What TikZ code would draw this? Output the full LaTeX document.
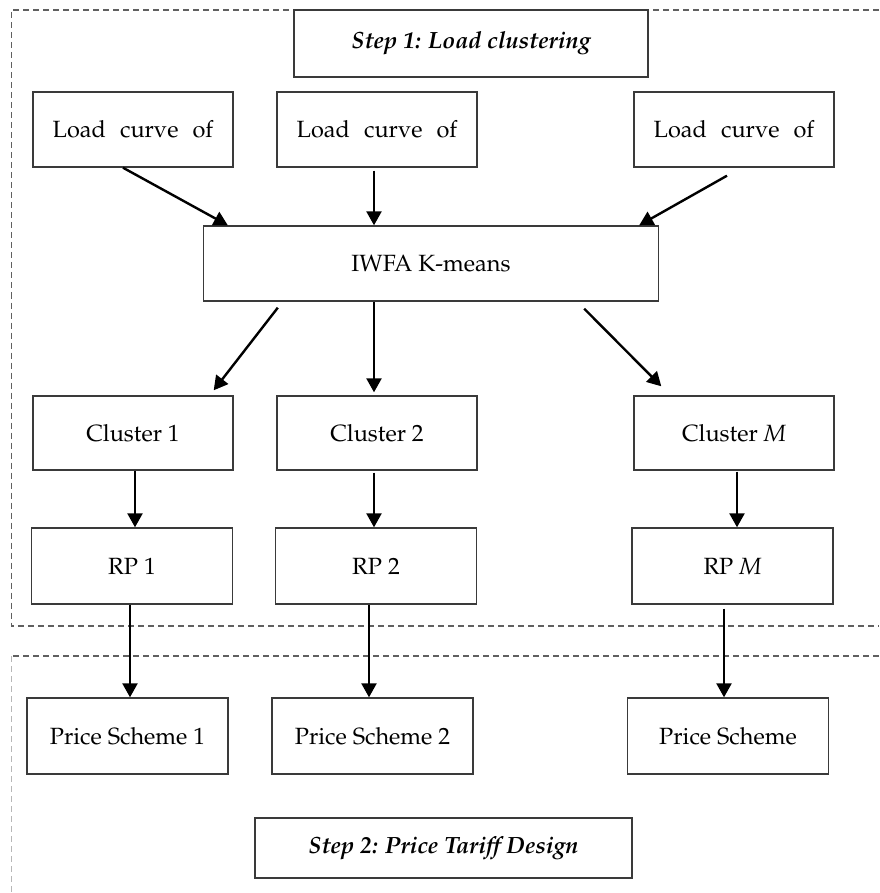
\documentclass[tikz,border=0pt]{standalone}
\usepackage[T1]{fontenc}
\usepackage{mathpazo}
\usetikzlibrary{arrows.meta}
\definecolor{boxline}{HTML}{3A3A3A}
\definecolor{dashline}{HTML}{606060}
\tikzset{
  box/.style={draw=boxline, line width=1.4pt, fill=white, inner sep=0pt, anchor=center,
    font=\fontsize{23.5}{28}\selectfont, text=black},
  stepbox/.style={box, font=\fontsize{23.5}{28}\selectfont\bfseries\itshape},
  arr/.style={draw=black, line width=2.4pt, -{Triangle[length=14pt,width=15pt]}},
  frame/.style={draw=dashline, line width=1.1pt, dash pattern=on 6pt off 4pt},
  lightframe/.style={draw=dashline!45, line width=0.9pt, dash pattern=on 6pt off 4pt}
}
\newcommand{\wsp}{\hspace{0.6em}}
\begin{document}
\begin{tikzpicture}[x=1pt,y=-1pt]
\useasboundingbox (0,0) rectangle (879,893);
% dashed frames
\draw[frame] (879,10) -- (11.5,10) -- (11.5,626) -- (879,626);
\draw[frame] (879,656) -- (11,656);
\draw[lightframe] (11,656) -- (11,893);
% nodes
\node[stepbox, minimum width=354pt, minimum height=67pt] (s1) at (471,43.5) {Step 1: Load clustering};
\node[box, minimum width=200pt, minimum height=75pt] (L1) at (133,129.5) {Load\wsp curve\wsp of};
\node[box, minimum width=200pt, minimum height=75pt] (L2) at (377,129.5) {Load\wsp curve\wsp of};
\node[box, minimum width=200pt, minimum height=75pt] (L3) at (734,129.5) {Load\wsp curve\wsp of};
\node[box, minimum width=455pt, minimum height=75pt] (iw) at (431,263.5) {IWFA K-means};
\node[box, minimum width=200pt, minimum height=74pt] (C1) at (133,433) {Cluster 1};
\node[box, minimum width=200pt, minimum height=74pt] (C2) at (377,433) {Cluster 2};
\node[box, minimum width=200pt, minimum height=74pt] (CM) at (734,433) {Cluster \textit{M}};
\node[box, minimum width=201pt, minimum height=76pt] (R1) at (132,566) {RP 1};
\node[box, minimum width=201pt, minimum height=76pt] (R2) at (376,566) {RP 2};
\node[box, minimum width=201pt, minimum height=76pt] (RM) at (732.5,566) {RP \textit{M}};
\node[box, minimum width=201pt, minimum height=76pt] (P1) at (127.5,736) {Price Scheme 1};
\node[box, minimum width=201pt, minimum height=76pt] (P2) at (372.5,736) {Price Scheme 2};
\node[box, minimum width=201pt, minimum height=76pt] (PM) at (728,736) {Price Scheme};
\node[stepbox, minimum width=377pt, minimum height=60pt] (s2) at (443.5,848) {Step 2: Price Tariff Design};
% arrows load -> IWFA
\draw[arr] ([xshift=-10pt]L1.south) -- ([xshift=25pt]iw.north west);
\draw[arr] ([xshift=-3pt,yshift=-3pt]L2.south) -- ([xshift=-3pt]L2.south |- iw.north);
\draw[arr] ([xshift=-7pt,yshift=-8pt]L3.south) -- ([xshift=-20pt]iw.north east);
% IWFA -> clusters
\draw[arr] ([xshift=75pt,yshift=-6pt]iw.south west) -- ([xshift=-20pt,yshift=5pt]C1.north east);
\draw[arr] ([xshift=-3pt]C2.north |- iw.south) -- ([xshift=-3pt,yshift=3pt]C2.north);
\draw[arr] ([xshift=-75pt,yshift=-7pt]iw.south east) -- ([xshift=28pt,yshift=9pt]CM.north west);
% clusters -> RP
\draw[arr] ([xshift=2pt]C1.south) -- ([xshift=2pt]C1.south |- R1.north);
\draw[arr] ([xshift=-3pt,yshift=-2pt]C2.south) -- ([xshift=-3pt]C2.south |- R2.north);
\draw[arr] ([xshift=3pt,yshift=-1pt]CM.south) -- ([xshift=3pt]CM.south |- RM.north);
% RP -> price schemes
\draw[arr] ([xshift=-2pt]R1.south) -- ([xshift=-2pt]R1.south |- P1.north);
\draw[arr] ([xshift=-7pt]R2.south) -- ([xshift=-7pt]R2.south |- P2.north);
\draw[arr] ([xshift=-8.5pt,yshift=-4pt]RM.south) -- ([xshift=-8.5pt]RM.south |- PM.north);
\end{tikzpicture}
\end{document}
